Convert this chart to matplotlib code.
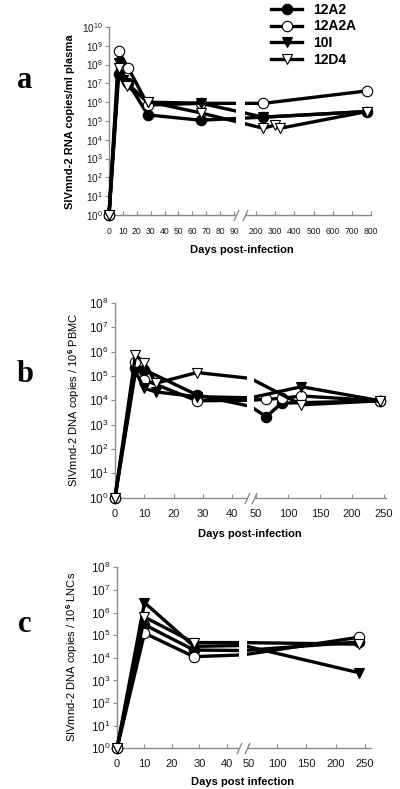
import numpy as np
import matplotlib
matplotlib.use("Agg")
import matplotlib.pyplot as plt
from matplotlib.path import Path
from matplotlib.patches import Rectangle
import matplotlib.transforms as mtransforms
from matplotlib.ticker import FixedLocator, FuncFormatter

plt.rcParams['font.family'] = ['Liberation Sans', 'DejaVu Sans']
plt.rcParams['mathtext.fontset'] = 'custom'
plt.rcParams['mathtext.rm'] = 'Liberation Sans'
plt.rcParams['mathtext.bf'] = 'Liberation Sans:bold'
plt.rcParams['mathtext.it'] = 'Liberation Sans:italic'

# ---------------- data ----------------
series_names = ['12A2', '12A2A', '10I', '12D4']

# panel a: RNA copies/ml plasma
a_days_12A2 = [0, 7, 14, 28, 66, 238, 780]
a_vals_12A2 = [1, 3.2e7, 1.0e7, 2.1e5, 1.1e5, 1.6e5, 3.2e5]
a_days_12A2A = [0, 7, 14, 28, 66, 238, 780]
a_vals_12A2A = [1, 5.0e8, 6.3e7, 7.1e5, 8.7e5, 8.7e5, 4.0e6]
a_days_10I = [0, 7, 10, 28, 66, 238, 780]
a_vals_10I = [1, 1.26e8, 1.6e7, 1.0e6, 8.9e5, 1.6e5, 3.2e5]
a_days_12D4 = [0, 7, 13, 28, 66, 238, 297, 325, 780]
a_vals_12D4 = [1, 6.3e7, 7.2e6, 1.07e6, 2.7e5, 4.1e4, 6.0e4, 4.1e4, 3.2e5]

# panel b: DNA copies / 10^6 PBMC
b_days_12A2 = [0, 7, 10, 28, 46, 66, 90, 244]
b_vals_12A2 = [1, 2.1e5, 1.8e5, 1.66e4, 5.6e3, 2.1e3, 7.6e3, 9.5e3]
b_days_12A2A = [0, 7, 10, 28, 46, 66, 90, 121, 244]
b_vals_12A2A = [1, 3.9e5, 6.9e4, 9.5e3, 1.0e4, 1.1e4, 1.2e4, 1.5e4, 9.5e3]
b_days_10I = [0, 7, 10, 14, 28, 46, 121, 244]
b_vals_10I = [1, 1.5e5, 3.1e4, 2.2e4, 1.4e4, 1.26e4, 3.6e4, 9.5e3]
b_days_12D4 = [0, 7, 10, 14, 28, 46, 121, 244]
b_vals_12D4 = [1, 7.2e5, 3.5e5, 5.0e4, 1.38e5, 7.9e4, 6.5e3, 9.5e3]

# panel c: DNA copies / 10^6 LNCs
c_days = [0, 10, 28, 46, 240]
c_vals_12A2 = [1, 2.9e5, 2.2e4, 2.1e4, 5.0e4]
c_vals_12A2A = [1, 1.23e5, 1.12e4, 1.35e4, 8.1e4]
c_vals_10I = [1, 2.75e6, 3.2e4, 3.5e4, 2.2e3]
c_vals_12D4 = [1, 6.3e5, 4.7e4, 4.7e4, 4.0e4]

a_xticks = [0, 10, 20, 30, 40, 50, 60, 70, 80, 90, 200, 300, 400, 500, 600, 700, 800]
b_xticks = [0, 10, 20, 30, 40, 50, 100, 150, 200, 250]
c_xticks = [0, 10, 20, 30, 40, 50, 100, 150, 200, 250]

# ---------------- layout helpers ----------------
W, H = 400, 789
fig = plt.figure(figsize=(W / 100, H / 100), dpi=100)
GRAY = '#8a8a8a'

styles = {
    '12A2': dict(marker='o', markerfacecolor='black'),
    '12A2A': dict(marker='o', markerfacecolor='white'),
    '10I': dict(marker='v', markerfacecolor='black'),
    '12D4': dict(marker='v', markerfacecolor='white'),
}


def broken_scale(kd, kp):
    kd = np.asarray(kd, float)
    kp = np.asarray(kp, float)
    s0 = (kp[1] - kp[0]) / (kd[1] - kd[0])
    s1 = (kp[-1] - kp[-2]) / (kd[-1] - kd[-2])
    KD = np.concatenate([[kd[0] - 1e4], kd, [kd[-1] + 1e4]])
    KP = np.concatenate([[kp[0] - 1e4 * s0], kp, [kp[-1] + 1e4 * s1]])
    return (lambda d: np.interp(d, KD, KP)), (lambda p: np.interp(p, KP, KD))


def make_panel(left, right, top, bottom, kd, kp, xmax, ymaxexp, data,
               xticks, xfs, yfs, xpad):
    ax = fig.add_axes([left / W, 1 - bottom / H, (right - left) / W, (bottom - top) / H])
    fwd, inv = broken_scale(kd, kp)
    ax.set_xscale('function', functions=(fwd, inv))
    ax.set_yscale('log')
    ax.set_xlim(0, xmax)
    ax.set_ylim(1, 10 ** ymaxexp)
    g0, g1 = kd[1], kd[2]
    handles = []
    for name, days, vals in data:
        shown = [not (g0 < d < g1) for d in days]
        h, = ax.plot(days, vals, color='black', lw=2.4, ms=7.5, markeredgecolor='black',
                     markeredgewidth=0.8, zorder=3, clip_on=False, label=name,
                     markevery=shown, **styles[name])
        handles.append(h)
    ax.xaxis.set_major_locator(FixedLocator(xticks))
    ax.xaxis.set_minor_locator(FixedLocator([]))
    ax.xaxis.set_major_formatter(FuncFormatter(lambda v, p: '%d' % round(v)))
    ax.yaxis.set_major_locator(FixedLocator([10.0 ** k for k in range(ymaxexp + 1)]))
    ax.yaxis.set_minor_locator(FixedLocator([]))
    ax.yaxis.set_major_formatter(FuncFormatter(lambda v, p: r'$\mathdefault{10^{%d}}$' % round(np.log10(v))))
    for s in ['top', 'right']:
        ax.spines[s].set_visible(False)
    for s in ['left', 'bottom']:
        ax.spines[s].set_color(GRAY)
        ax.spines[s].set_linewidth(1.0)
    ax.tick_params(axis='x', direction='in', length=3, color=GRAY, labelsize=xfs,
                   labelcolor='#1a1a1a', pad=xpad)
    ax.tick_params(axis='y', direction='out', length=3, color=GRAY, labelsize=yfs,
                   labelcolor='#1a1a1a', pad=1.5)
    # axis break: white band over lines and axis, plus two slashes
    blend = mtransforms.blended_transform_factory(ax.transData, ax.transAxes)
    ax.add_patch(Rectangle((g0, -0.03), g1 - g0, 1.06, transform=blend, facecolor='white',
                           edgecolor='none', zorder=4, clip_on=False))
    slash = Path([(-0.45, -1.0), (0.45, 1.0)], [Path.MOVETO, Path.LINETO])
    ax.plot([g0, g1], [0, 0], transform=blend, ls='none', marker=slash, ms=8,
            markeredgecolor=GRAY, markerfacecolor='none', markeredgewidth=1.0,
            zorder=5, clip_on=False)
    return ax, handles


# ---------------- panel a ----------------
data_a = [('12A2', a_days_12A2, a_vals_12A2), ('12A2A', a_days_12A2A, a_vals_12A2A),
          ('10I', a_days_10I, a_vals_10I), ('12D4', a_days_12D4, a_vals_12D4)]
ax_a, handles = make_panel(109, 371, 27, 215, [0, 91.4, 142.6, 800], [109, 236, 245, 371],
                           800, 10, data_a, a_xticks, 6.2, 7.2, 8.5)

# ---------------- panel b ----------------
data_b = [('12A2', b_days_12A2, b_vals_12A2), ('12A2A', b_days_12A2A, b_vals_12A2A),
          ('10I', b_days_10I, b_vals_10I), ('12D4', b_days_12D4, b_vals_12D4)]
ax_b, _ = make_panel(115, 386, 303, 497.5, [0, 45, 46.9, 253], [115, 246.7, 254, 386],
                     253, 8, data_b, b_xticks, 8, 8.5, 8.5)

# ---------------- panel c ----------------
data_c = [('12A2', c_days, c_vals_12A2), ('12A2A', c_days, c_vals_12A2A),
          ('10I', c_days, c_vals_10I), ('12D4', c_days, c_vals_12D4)]
ax_c, _ = make_panel(117, 370.5, 567.3, 748.3, [0, 44.5, 47.3, 260], [117, 239.3, 246.7, 370.5],
                     260, 8, data_c, c_xticks, 8, 8.5, 7.5)

# ---------------- texts ----------------
def ftext(x, y, s, **kw):
    fig.text(x / W, 1 - y / H, s, **kw)

ftext(70, 122, 'SIVmnd-2 RNA copies/ml plasma', rotation=90, ha='center', va='center',
      fontsize=8, fontweight='bold')
ftext(74, 400, r'SIVmnd-2 DNA copies / 10$^{\mathbf{6}}$ PBMC', rotation=90, ha='center',
      va='center', fontsize=8)
ftext(72, 657, r'SIVmnd-2 DNA copies / 10$^{\mathbf{6}}$ LNCs', rotation=90, ha='center',
      va='center', fontsize=8)

ftext(242, 250, 'Days post-infection', ha='center', va='center', fontsize=8, fontweight='bold')
ftext(250, 534, 'Days post-infection', ha='center', va='center', fontsize=8, fontweight='bold')
ftext(243, 782, 'Days post infection', ha='center', va='center', fontsize=8, fontweight='bold')

for x, y, s in [(25, 80, 'a'), (25, 374, 'b'), (25, 624, 'c')]:
    ftext(x, y, s, ha='center', va='center', fontsize=22, fontweight='bold',
          family='Liberation Serif')

fig.legend(handles, series_names, loc='upper left', bbox_to_anchor=(271 / W, 1 - 3 / H),
           frameon=False, prop=dict(family='Liberation Sans', weight='bold', size=10),
           handlelength=2.25, handletextpad=0.8, labelspacing=0.18, borderpad=0,
           borderaxespad=0)

fig.savefig('out.png', dpi=100)
